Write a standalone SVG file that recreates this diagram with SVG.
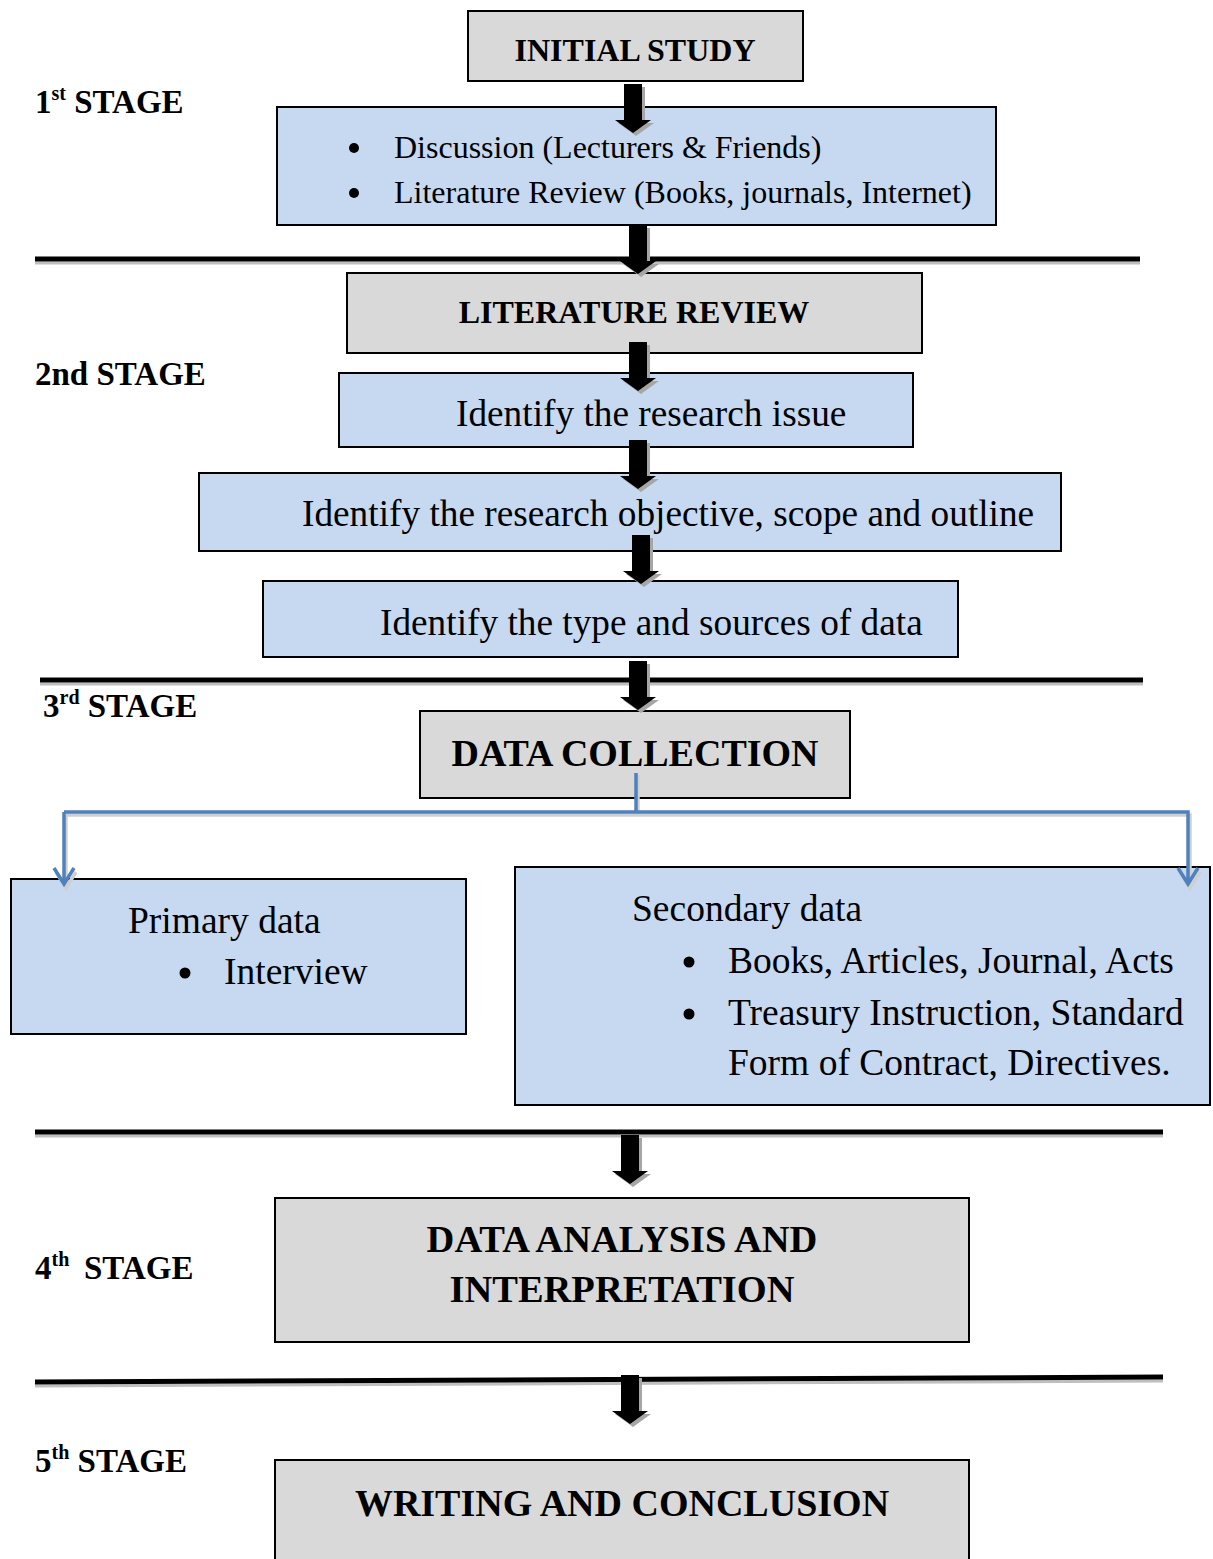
<svg xmlns="http://www.w3.org/2000/svg" width="1213" height="1559" viewBox="0 0 1213 1559">
<style>
.gray{fill:#d9d9d9;stroke:#000;stroke-width:2}
.blue{fill:#c6d9f1;stroke:#000;stroke-width:2}
.hd{font-family:"Liberation Serif",serif;font-weight:bold;fill:#000}
.tx{font-family:"Liberation Serif",serif;fill:#000}
.rule{stroke:#000;stroke-width:5}
.ruleS{stroke:#bfbfbf;stroke-width:3}
.conn{fill:none;stroke:#4f81bd;stroke-width:3.5}
.connS{fill:none;stroke:#cfcfcf;stroke-width:3.5}
</style>
<defs>
<path id="blk" d="M-9,0 H9 V36 H18 L0,49 L-18,36 H-9 Z"/>
<g id="arrow"><use href="#blk" x="3" y="3" fill="#a6a6a6"/><use href="#blk" fill="#000"/></g>
</defs>
<rect width="1213" height="1559" fill="#fff"/>

<g id="rules">
<line class="ruleS" x1="35" y1="263" x2="1140" y2="263"/>
<line class="rule" x1="35" y1="259" x2="1140" y2="259"/>
<line class="ruleS" x1="40" y1="684" x2="1143" y2="684"/>
<line class="rule" x1="40" y1="680" x2="1143" y2="680"/>
<line class="ruleS" x1="35" y1="1136" x2="1163" y2="1136"/>
<line class="rule" x1="35" y1="1132" x2="1163" y2="1132"/>
<line class="ruleS" x1="35" y1="1386" x2="1163" y2="1381"/>
<line class="rule" x1="35" y1="1382" x2="1163" y2="1377"/>
</g>

<g id="labels">
<text class="hd" x="35" y="113" font-size="33">1<tspan font-size="20" dy="-13">st</tspan><tspan dy="13"> STAGE</tspan></text>
<text class="hd" x="35" y="385" font-size="33">2nd STAGE</text>
<text class="hd" x="43" y="717" font-size="33">3<tspan font-size="20" dy="-13">rd</tspan><tspan dy="13"> STAGE</tspan></text>
<text class="hd" x="35" y="1279" font-size="33">4<tspan font-size="20" dy="-13">th</tspan><tspan dy="13" x="84">STAGE</tspan></text>
<text class="hd" x="35" y="1472" font-size="33">5<tspan font-size="20" dy="-13">th</tspan><tspan dy="13"> STAGE</tspan></text>
</g>

<g id="n-initial">
<rect class="gray" x="468" y="11" width="335" height="70"/>
<text class="hd" x="635" y="61" font-size="32" text-anchor="middle">INITIAL STUDY</text>
</g>
<g id="n-discussion">
<rect class="blue" x="277" y="107" width="719" height="118"/>
<circle cx="354" cy="148" r="5"/>
<circle cx="354" cy="193" r="5"/>
<text class="tx" x="394" y="158" font-size="32">Discussion (Lecturers &amp; Friends)</text>
<text class="tx" x="394" y="203" font-size="32">Literature Review (Books, journals, Internet)</text>
</g>
<g id="n-litreview">
<rect class="gray" x="347" y="273" width="575" height="80"/>
<text class="hd" x="634" y="323" font-size="32" text-anchor="middle">LITERATURE REVIEW</text>
</g>
<g id="n-issue">
<rect class="blue" x="339" y="373" width="574" height="74"/>
<text class="tx" x="456" y="426" font-size="37.3">Identify the research issue</text>
</g>
<g id="n-objective">
<rect class="blue" x="199" y="473" width="862" height="78"/>
<text class="tx" x="302" y="526" font-size="37.3">Identify the research objective, scope and outline</text>
</g>
<g id="n-sources">
<rect class="blue" x="263" y="581" width="695" height="76"/>
<text class="tx" x="380" y="635" font-size="37.3">Identify the type and sources of data</text>
</g>
<g id="n-collection">
<rect class="gray" x="420" y="711" width="430" height="87"/>
<text class="hd" x="635" y="766" font-size="38" text-anchor="middle">DATA COLLECTION</text>
</g>
<g id="n-primary">
<rect class="blue" x="11" y="879" width="455" height="155"/>
<text class="tx" x="128" y="933" font-size="37.5">Primary data</text>
<circle cx="185" cy="973" r="5.5"/>
<text class="tx" x="224" y="984" font-size="37.5">Interview</text>
</g>
<g id="n-secondary">
<rect class="blue" x="515" y="867" width="695" height="238"/>
<text class="tx" x="632" y="921" font-size="37.5">Secondary data</text>
<circle cx="689" cy="962" r="5.5"/>
<circle cx="689" cy="1014" r="5.5"/>
<text class="tx" x="728" y="973" font-size="37.5">Books, Articles, Journal, Acts</text>
<text class="tx" x="728" y="1025" font-size="37.5">Treasury Instruction, Standard</text>
<text class="tx" x="728" y="1075" font-size="37.5">Form of Contract, Directives.</text>
</g>
<g id="n-analysis">
<rect class="gray" x="275" y="1198" width="694" height="144"/>
<text class="hd" x="622" y="1252" font-size="38.5" text-anchor="middle">DATA ANALYSIS AND</text>
<text class="hd" x="622" y="1302" font-size="38.5" text-anchor="middle">INTERPRETATION</text>
</g>
<g id="n-writing">
<rect class="gray" x="275" y="1460" width="694" height="110"/>
<text class="hd" x="622" y="1516" font-size="38" text-anchor="middle">WRITING AND CONCLUSION</text>
</g>

<g id="connectors">
<use href="#arrow" x="633" y="84"/>
<use href="#arrow" x="638" y="225"/>
<use href="#arrow" x="638" y="342"/>
<use href="#arrow" x="638" y="440"/>
<use href="#arrow" x="641" y="535"/>
<use href="#arrow" x="638" y="661"/>
<use href="#arrow" x="630" y="1135"/>
<use href="#arrow" x="630" y="1375"/>
<path class="connS" d="M638,775 V815 M66,815 H1190 V886 M66,815 V886 M56,872 L66,888 L76,872 M1180,872 L1190,888 L1200,872"/>
<path class="conn" d="M636,773 V812 M64,812 H1188 V884 M64,812 V884 M54,868 L64,884 L74,868 M1178,868 L1188,884 L1198,868"/>
</g>
</svg>
